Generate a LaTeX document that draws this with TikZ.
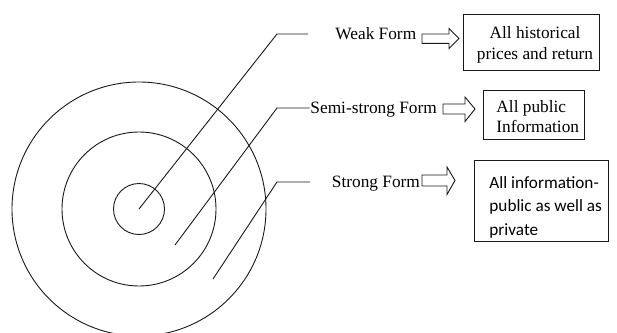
\documentclass[tikz,border=0pt]{standalone}
\usepackage{fontspec}
\setmainfont{Liberation Serif}
\newfontfamily\calibfont{Carlito}
\begin{document}
\begin{tikzpicture}[x=1pt,y=-1pt,
  line width=0.9pt,
  ring/.style={circle,draw=black!90,inner sep=0pt,outer sep=0pt},
  leader/.style={draw=black!90,line width=0.9pt},
  box/.style={draw=black!90,line width=0.9pt,rectangle,inner sep=0pt,anchor=north west},
  lbl/.style={inner sep=0pt,font=\fontsize{17.3}{21}\selectfont},
  sanslbl/.style={inner sep=0pt,anchor=base west,font=\calibfont\fontsize{17.2}{24}\selectfont},
  harrow/.style={draw=black!90,line width=0.9pt,line join=miter}]
\useasboundingbox (0,0) rectangle (617,332);
% concentric circles
\node[ring,minimum size=254] (outer) at (139,209) {};
\node[ring,minimum size=154] (middle) at (139,209) {};
\node[ring,minimum size=51] (inner) at (139,209) {};
% leader points
\coordinate (s2) at (175,245);
\coordinate (s3) at (213,279);
\coordinate (k1) at (277,34);
\coordinate (k2) at (277,108);
\coordinate (k3) at (277,182);
\coordinate (e1) at (308,34);
\coordinate (e2) at (309.5,108);
\coordinate (e3) at (310,182);
\draw[leader] (inner.center) -- (k1) -- (e1);
\draw[leader] (s2) -- (k2) -- (e2);
\draw[leader] (s3) -- (k3) -- (e3);
% form labels
\node[lbl,anchor=base west] (weak) at (335,39) {Weak Form};
\node[lbl,anchor=base west] (semi) at (310,113.5) {Semi-strong Form};
\node[lbl,anchor=base west] (strong) at (331.5,187) {Strong Form};
% hollow arrows
\draw[harrow] (422,34) -- (449,34) -- (449,28.5) -- (459,38.5) -- (449,48.5) -- (449,43.3) -- (422,43.3) -- cycle;
\draw[harrow] (443,104) -- (465,104) -- (465,97) -- (475,109) -- (465,121.5) -- (465,114) -- (443,114) -- cycle;
\draw[harrow] (422,175) -- (447,175) -- (447,167) -- (455,180.5) -- (447,194.5) -- (447,186) -- (422,186) -- cycle;
% boxes
\node[box,minimum width=136,minimum height=56] (b1) at (463,14) {};
\node[lbl,anchor=base] (b1a) at (535,38) {All historical};
\node[lbl,anchor=base] (b1b) at (535,59) {prices and return};
\node[box,minimum width=101,minimum height=49] (b2) at (483,90) {};
\node[lbl,anchor=base west] (b2a) at (496,112) {All public};
\node[lbl,anchor=base west] (b2b) at (496,132) {Information};
\node[box,minimum width=134,minimum height=81] (b3) at (474,160) {};
\node[sanslbl] (b3a) at (489,188) {All information-};
\node[sanslbl] (b3b) at (489,211.5) {public as well as};
\node[sanslbl] (b3c) at (489,235) {private};
\end{tikzpicture}
\end{document}
